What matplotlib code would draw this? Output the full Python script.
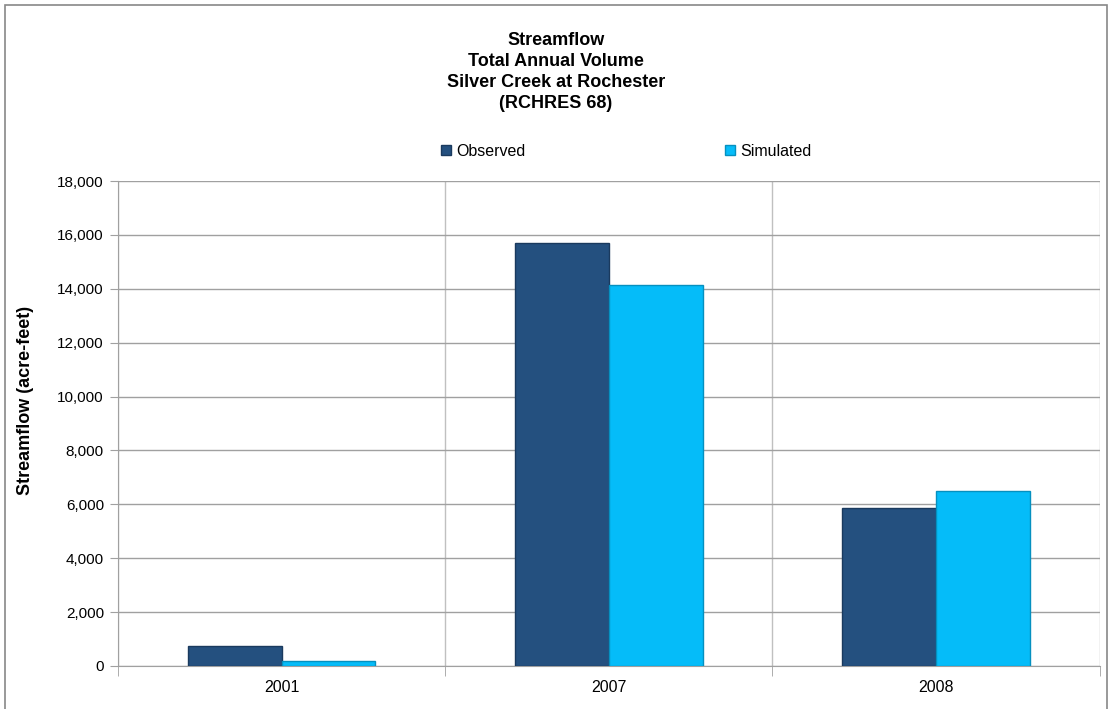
import numpy as np
import matplotlib.pyplot as plt
from matplotlib.ticker import FuncFormatter, FixedLocator
from matplotlib.patches import Rectangle

years = ["2001", "2007", "2008"]
observed = [750, 15700, 5850]
simulated = [190, 14150, 6500]

COLOR = {"Observed": "#24507f", "Simulated": "#05bcf9"}
EDGE = {"Observed": "#1a3a5e", "Simulated": "#0590c0"}

plt.rcParams["font.family"] = ["Liberation Sans", "DejaVu Sans"]

fig = plt.figure(figsize=(11.12, 7.09), dpi=100)
ax = fig.add_axes([0.106, 0.0607, 0.883, 0.684])

x = np.arange(len(years))
w = 0.287
ax.bar(x - w / 2, observed, w, color=COLOR["Observed"], edgecolor=EDGE["Observed"],
       lw=1, label="Observed", zorder=3)
ax.bar(x + w / 2, simulated, w, color=COLOR["Simulated"], edgecolor=EDGE["Simulated"],
       lw=1, label="Simulated", zorder=3)

ax.set_xlim(-0.5, 2.5)
ax.set_ylim(0, 18000)
ax.set_yticks(np.arange(0, 18001, 2000))
ax.yaxis.set_major_formatter(FuncFormatter(lambda v, p: f"{int(v):,}"))
ax.set_xticks(x)
ax.set_xticklabels(years)
ax.xaxis.set_minor_locator(FixedLocator([-0.5, 0.5, 1.5, 2.5]))
ax.tick_params(axis="x", which="major", length=0, labelsize=11.5, pad=10)
ax.tick_params(axis="x", which="minor", length=7, color="#a0a0a0")
ax.tick_params(axis="y", length=6, color="#a0a0a0", labelsize=11, pad=4)

ax.grid(True, axis="y", color="#a0a0a0", lw=1, zorder=0)
ax.grid(True, axis="x", which="minor", color="#c0c0c0", lw=1, zorder=0)
for s in ["top", "right"]:
    ax.spines[s].set_visible(False)
ax.spines["left"].set_color("#a0a0a0")
ax.spines["bottom"].set_color("#a0a0a0")

ax.set_ylabel("Streamflow (acre-feet)", fontsize=13, fontweight="bold")
ax.yaxis.set_label_coords(-0.085, 0.548)

fig.text(0.5, 1 - 32 / 709, "Streamflow\nTotal Annual Volume\nSilver Creek at Rochester\n(RCHRES 68)",
         ha="center", va="top", fontsize=13, fontweight="bold", linespacing=1.3)

fig.legend(loc="center", bbox_to_anchor=(0.563, 0.787), ncol=2, frameon=False,
           fontsize=11.5, columnspacing=12.5, handlelength=0.65, handleheight=0.65,
           handletextpad=0.3)

fig.patches.append(Rectangle((5 / 1112, -0.01), 1102 / 1112, 1.01 - 5 / 709,
                             transform=fig.transFigure, fill=False,
                             edgecolor="#888888", lw=1.2))

fig.savefig("out.png", dpi=100)
